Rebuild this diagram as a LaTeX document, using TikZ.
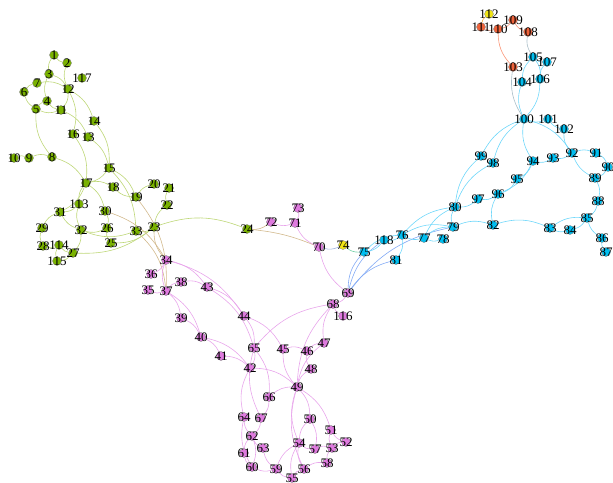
\documentclass[tikz,border=0pt]{standalone}
\usepackage{fontspec}
\setmainfont{Liberation Serif}
\usetikzlibrary{backgrounds}
\definecolor{gcol}{RGB}{122,178,0}
\definecolor{pcol}{RGB}{222,122,222}
\definecolor{bcol}{RGB}{0,190,240}
\definecolor{ocol}{RGB}{238,98,58}
\definecolor{ycol}{RGB}{240,228,20}
\definecolor{gline}{RGB}{190,215,120}
\definecolor{pline}{RGB}{232,165,235}
\definecolor{bline}{RGB}{110,215,250}
\definecolor{tline}{RGB}{210,185,140}
\definecolor{bpline}{RGB}{130,170,245}
\definecolor{oline}{RGB}{250,150,120}
\definecolor{obline}{RGB}{170,190,200}
\definecolor{ybline}{RGB}{120,210,170}
\definecolor{ypline}{RGB}{160,180,225}
\definecolor{yoline}{RGB}{245,175,60}
\tikzset{
  vtx/.style={circle, inner sep=0pt, minimum size=9pt, draw=black!45, line width=.4pt},
  gvx/.style={vtx, fill=gcol, label={center:#1}},
  pvx/.style={vtx, fill=pcol, label={center:#1}},
  bvx/.style={vtx, fill=bcol, label={center:#1}},
  ovx/.style={vtx, fill=ocol, label={center:#1}},
  yvx/.style={vtx, fill=ycol, label={center:#1}},
  every label/.style={font=\fontsize{13}{13}\selectfont, inner sep=0pt, text=black},
  link/.style={draw=#1, line width=.6pt, bend right=20}
}
\begin{document}
\begin{tikzpicture}[x=1pt,y=-1pt]
  \useasboundingbox (0,0) rectangle (613,482);
  \draw
    (54,55) node[gvx=1] (1){}
    (67,63) node[gvx=2] (2){}
    (82,78) node[gvx=117] (117){}
    (49,74) node[gvx=3] (3){}
    (37,83) node[gvx=7] (7){}
    (68,89) node[gvx=12] (12){}
    (24,92) node[gvx=6] (6){}
    (47,101) node[gvx=4] (4){}
    (36,109) node[gvx=5] (5){}
    (61,110) node[gvx=11] (11){}
    (94,121) node[gvx=14] (14){}
    (73,134) node[gvx=16] (16){}
    (88,137) node[gvx=13] (13){}
    (14,158) node[gvx=10] (10){}
    (29,158) node[gvx=9] (9){}
    (52,157) node[gvx=8] (8){}
    (109,168) node[gvx=15] (15){}
    (86,183) node[gvx=17] (17){}
    (113,187) node[gvx=18] (18){}
    (154,184) node[gvx=20] (20){}
    (169,188) node[gvx=21] (21){}
    (136,197) node[gvx=19] (19){}
    (167,205) node[gvx=22] (22){}
    (79,204) node[gvx=113] (113){}
    (105,211) node[gvx=30] (30){}
    (60,212) node[gvx=31] (31){}
    (42,228) node[gvx=29] (29){}
    (81,230) node[gvx=32] (32){}
    (107,228) node[gvx=26] (26){}
    (136,231) node[gvx=33] (33){}
    (154,227) node[gvx=23] (23){}
    (43,246) node[gvx=28] (28){}
    (59,245) node[gvx=114] (114){}
    (73,253) node[gvx=27] (27){}
    (111,243) node[gvx=25] (25){}
    (57,261) node[gvx=115] (115){}
    (247,229) node[gvx=24] (24){};
  \draw
    (166,260) node[pvx=34] (34){}
    (151,274) node[pvx=36] (36){}
    (181,282) node[pvx=38] (38){}
    (207,287) node[pvx=43] (43){}
    (148,290) node[pvx=35] (35){}
    (166,291) node[pvx=37] (37){}
    (181,318) node[pvx=39] (39){}
    (244,316) node[pvx=44] (44){}
    (201,337) node[pvx=40] (40){}
    (254,348) node[pvx=65] (65){}
    (283,349) node[pvx=45] (45){}
    (307,351) node[pvx=46] (46){}
    (324,343) node[pvx=47] (47){}
    (221,356) node[pvx=41] (41){}
    (333,304) node[pvx=68] (68){}
    (348,293) node[pvx=69] (69){}
    (343,316) node[pvx=116] (116){}
    (250,368) node[pvx=42] (42){}
    (311,369) node[pvx=48] (48){}
    (297,387) node[pvx=49] (49){}
    (269,397) node[pvx=66] (66){}
    (244,417) node[pvx=64] (64){}
    (261,418) node[pvx=67] (67){}
    (310,419) node[pvx=50] (50){}
    (331,430) node[pvx=51] (51){}
    (346,442) node[pvx=52] (52){}
    (252,436) node[pvx=62] (62){}
    (299,443) node[pvx=54] (54){}
    (315,449) node[pvx=57] (57){}
    (332,448) node[pvx=53] (53){}
    (263,448) node[pvx=63] (63){}
    (244,453) node[pvx=61] (61){}
    (327,463) node[pvx=58] (58){}
    (252,467) node[pvx=60] (60){}
    (276,469) node[pvx=59] (59){}
    (304,469) node[pvx=56] (56){}
    (292,478) node[pvx=55] (55){}
    (271,222) node[pvx=72] (72){}
    (298,208) node[pvx=73] (73){}
    (295,223) node[pvx=71] (71){}
    (319,247) node[pvx=70] (70){};
  \draw
    (343,245) node[yvx=74] (74){}
    (489,14) node[yvx=112] (112){}
    (513,67) node[ovx=103] (103){}
    (528,32) node[ovx=108] (108){}
    (513,20) node[ovx=109] (109){}
    (498,29) node[ovx=110] (110){}
    (481,27) node[ovx=111] (111){};
  \draw
    (364,252) node[bvx=75] (75){}
    (384,240) node[bvx=118] (118){}
    (396,260) node[bvx=81] (81){}
    (402,235) node[bvx=76] (76){}
    (424,238) node[bvx=77] (77){}
    (443,239) node[bvx=78] (78){}
    (453,227) node[bvx=79] (79){}
    (455,207) node[bvx=80] (80){}
    (493,225) node[bvx=82] (82){}
    (550,228) node[bvx=83] (83){}
    (570,230) node[bvx=84] (84){}
    (587,218) node[bvx=85] (85){}
    (602,238) node[bvx=86] (86){}
    (606,252) node[bvx=87] (87){}
    (598,201) node[bvx=88] (88){}
    (595,178) node[bvx=89] (89){}
    (608,167) node[bvx=90] (90){}
    (596,153) node[bvx=91] (91){}
    (572,153) node[bvx=92] (92){}
    (553,158) node[bvx=93] (93){}
    (533,161) node[bvx=94] (94){}
    (517,179) node[bvx=95] (95){}
    (498,194) node[bvx=96] (96){}
    (478,199) node[bvx=97] (97){}
    (493,163) node[bvx=98] (98){}
    (481,156) node[bvx=99] (99){}
    (524,119) node[bvx=100] (100){}
    (548,119) node[bvx=101] (101){}
    (564,129) node[bvx=102] (102){}
    (522,82) node[bvx=104] (104){}
    (540,79) node[bvx=106] (106){}
    (533,57) node[bvx=105] (105){}
    (547,62) node[bvx=107] (107){};
  \begin{scope}[on background layer={link=gline}]
    \draw (1) to (2);
    \draw (1) to (3);
    \draw (2) to (12);
    \draw (3) to (4);
    \draw (12) to (3);
    \draw (12) to (7);
    \draw (7) to (6);
    \draw (6) to (5);
    \draw (4) to (5);
    \draw (4) to (11);
    \draw (5) to (11);
    \draw (11) to (12);
    \draw (14) to (12);
    \draw (16) to (12);
    \draw (13) to (11);
    \draw (15) to (13);
    \draw (15) to (14);
    \draw (5) to (8);
    \draw (8) to (9);
    \draw (9) to (10);
    \draw (17) to (8);
    \draw (17) to (16);
    \draw (17) to (15);
    \draw (19) to (15);
    \draw (33) to (15);
    \draw (18) to (17);
    \draw (18) to (19);
    \draw (20) to (19);
    \draw (21) to (22);
    \draw (22) to (23);
    \draw (17) to (113);
    \draw (30) to (17);
    \draw (31) to (17);
    \draw (31) to (113);
    \draw (113) to (32);
    \draw (31) to (29);
    \draw (31) to (32);
    \draw (29) to (28);
    \draw (28) to (114);
    \draw (114) to (27);
    \draw (114) to (115);
    \draw (115) to (27);
    \draw (27) to (32);
    \draw (32) to (26);
    \draw (26) to (30);
    \draw (26) to (25);
    \draw (25) to (23);
    \draw (27) to (23);
    \draw (33) to (23);
    \draw (32) to (33);
    \draw (24) to (23);
  \end{scope}
  \begin{scope}[on background layer={link=tline}]
    \draw (34) to (30);
    \draw (37) to (19);
    \draw (23) to (34);
    \draw (37) to (33);
    \draw (24) to (72);
    \draw[bend right=8] (70) to (24);
  \end{scope}
  \begin{scope}[on background layer={link=pline}]
    \draw (36) to (34);
    \draw (34) to (37);
    \draw (35) to (37);
    \draw (38) to (37);
    \draw (43) to (38);
    \draw (43) to (34);
    \draw (44) to (34);
    \draw (44) to (43);
    \draw (65) to (43);
    \draw (40) to (37);
    \draw (39) to (37);
    \draw (40) to (39);
    \draw (41) to (40);
    \draw (42) to (40);
    \draw (42) to (41);
    \draw (65) to (44);
    \draw (45) to (44);
    \draw (42) to (65);
    \draw (66) to (65);
    \draw (68) to (65);
    \draw (49) to (42);
    \draw (42) to (64);
    \draw (46) to (45);
    \draw (45) to (49);
    \draw (47) to (46);
    \draw (46) to (48);
    \draw (68) to (47);
    \draw (47) to (49);
    \draw (48) to (49);
    \draw (68) to (49);
    \draw (68) to (69);
    \draw (68) to (116);
    \draw (70) to (69);
    \draw (71) to (70);
    \draw (72) to (71);
    \draw (71) to (73);
    \draw (49) to (66);
    \draw (50) to (49);
    \draw (51) to (49);
    \draw (49) to (54);
    \draw (49) to (56);
    \draw (50) to (54);
    \draw (57) to (50);
    \draw (51) to (52);
    \draw (51) to (53);
    \draw (52) to (53);
    \draw (53) to (57);
    \draw (53) to (58);
    \draw (54) to (55);
    \draw (54) to (56);
    \draw (54) to (57);
    \draw (54) to (59);
    \draw (58) to (56);
    \draw (56) to (55);
    \draw (64) to (62);
    \draw (62) to (67);
    \draw (62) to (61);
    \draw (62) to (63);
    \draw (60) to (62);
    \draw (61) to (60);
    \draw (60) to (59);
    \draw (59) to (55);
    \draw (63) to (59);
    \draw (67) to (66);
    \draw (64) to (60);
    \draw (65) to (67);
  \end{scope}
  \begin{scope}[on background layer={link=bpline}]
    \draw (75) to (69);
    \draw (118) to (69);
    \draw (81) to (69);
    \draw (79) to (69);
  \end{scope}
  \begin{scope}[on background layer={link=bline}]
    \draw (75) to (118);
    \draw (118) to (76);
    \draw (76) to (75);
    \draw (76) to (77);
    \draw (80) to (76);
    \draw (79) to (76);
    \draw (81) to (76);
    \draw (77) to (78);
    \draw (79) to (77);
    \draw (80) to (77);
    \draw (80) to (79);
    \draw (82) to (79);
    \draw (80) to (97);
    \draw (100) to (99);
    \draw (100) to (98);
    \draw (99) to (80);
    \draw (98) to (80);
    \draw (97) to (96);
    \draw (96) to (95);
    \draw (95) to (94);
    \draw (96) to (94);
    \draw (96) to (82);
    \draw (83) to (82);
    \draw (83) to (84);
    \draw (85) to (83);
    \draw (84) to (85);
    \draw (85) to (88);
    \draw (85) to (86);
    \draw (86) to (87);
    \draw (88) to (89);
    \draw (89) to (90);
    \draw (92) to (89);
    \draw (90) to (91);
    \draw (91) to (92);
    \draw (93) to (92);
    \draw (94) to (93);
    \draw (92) to (100);
    \draw (100) to (94);
    \draw (100) to (101);
    \draw (101) to (102);
    \draw (102) to (92);
    \draw (104) to (100);
    \draw (100) to (106);
    \draw (105) to (104);
    \draw (106) to (105);
    \draw (105) to (107);
    \draw (107) to (106);
  \end{scope}
  \begin{scope}[on background layer={link=oline}]
    \draw (109) to (108);
    \draw (110) to (109);
    \draw (111) to (110);
    \draw (110) to (103);
  \end{scope}
  \begin{scope}[on background layer={link=obline}]
    \draw (108) to (105);
    \draw (103) to (100);
  \end{scope}
  \begin{scope}[on background layer]
    \draw[link=yoline] (112) to (111);
    \draw[link=ybline] (74) to (75);
    \draw[link=ypline] (70) to (74);
  \end{scope}
\end{tikzpicture}
\end{document}
